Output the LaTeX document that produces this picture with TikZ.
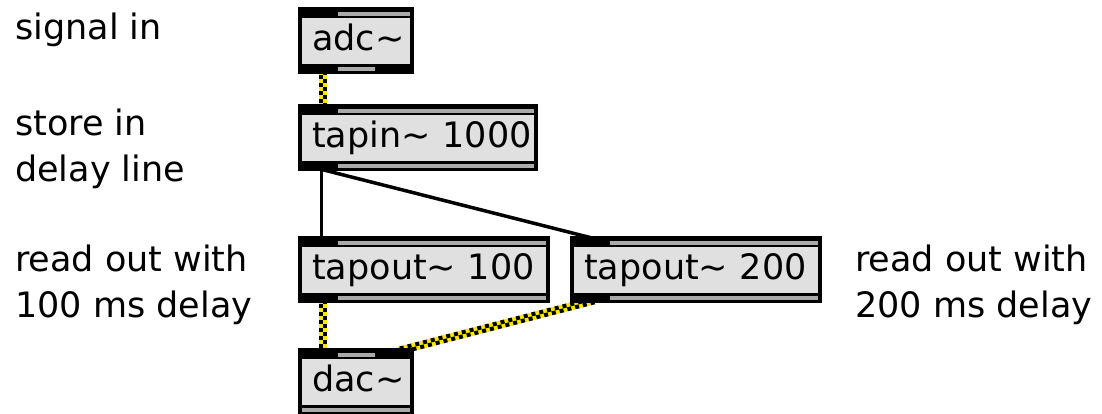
\documentclass[tikz,border=0pt]{standalone}
\usepackage{fontspec}
\setmainfont{DejaVu Sans}
\usepackage{tikz}
\usetikzlibrary{positioning,calc}
\pgfdeclarelayer{bg}
\pgfsetlayers{bg,main}
\definecolor{boxfill}{RGB}{224,224,224}
\definecolor{stripgray}{RGB}{170,170,170}
\definecolor{cordyellow}{RGB}{250,232,0}
\newcommand{\topstrip}[3]{\fill[stripgray] ($(#1.north west)+(#2,5)$) rectangle ($(#1.north west)+(#3,9)$);}
\newcommand{\botstrip}[3]{\fill[stripgray] ($(#1.south west)+(#2,-7)$) rectangle ($(#1.south west)+(#3,-3)$);}
\newcommand{\sigcord}[2]{%
  \draw[cordyellow, line width=8pt] (#1) -- (#2);
  \draw[black, line width=4pt, dash pattern=on 4pt off 4pt] ($(#1)!2pt!90:(#2)$) -- ($(#2)!2pt!-90:(#1)$);
  \draw[black, line width=4pt, dash pattern=on 4pt off 4pt, dash phase=4pt] ($(#1)!2pt!-90:(#2)$) -- ($(#2)!2pt!90:(#1)$);}

\begin{document}
\begin{tikzpicture}[x = 1pt, y = -1pt, font = \fontsize{35}{46}\selectfont,
    lbl/.style = {anchor = base west, align = left, inner sep = 0pt},
    maxobj/.style = {rectangle, anchor = north west, inner sep = 0pt, text width = #1,
      align = left, minimum height = 67pt, text height = 27pt, text depth = 8pt,
      path picture = {
        \fill[black] (path picture bounding box.north west) rectangle (path picture bounding box.south east);
        \fill[boxfill] ($(path picture bounding box.north west)+(4,11)$) rectangle ($(path picture bounding box.south east)+(-4,-10)$);
      }}]
    \useasboundingbox (0,0) rectangle (1102,414);
    % objects
    \node[maxobj = 116pt] (adc) at (298,7) {\hspace*{14pt}adc\textasciitilde};
    \node[maxobj = 240pt] (tapin) at (298,104) {\hspace*{14pt}tapin\textasciitilde\ 1000};
    \node[maxobj = 252pt] (outa) at (298,236) {\hspace*{14pt}tapout\textasciitilde\ 100};
    \node[maxobj = 252pt] (outb) at (570,236) {\hspace*{14pt}tapout\textasciitilde\ 200};
    \node[maxobj = 116pt] (dac) at (298,348) {\hspace*{14pt}dac\textasciitilde};
    % inlets and outlets
    \topstrip{adc}{40}{112} \botstrip{adc}{40}{77}
    \topstrip{tapin}{40}{236} \botstrip{tapin}{40}{236}
    \topstrip{outa}{40}{248} \botstrip{outa}{40}{248}
    \topstrip{outb}{40}{248} \botstrip{outb}{40}{248}
    \topstrip{dac}{40}{77} \botstrip{dac}{4}{112}
    % patch cords
    \coordinate (adcout) at ($(adc.south west)+(24.5,-3)$);
    \coordinate (tapinin) at ($(tapin.north west)+(24.5,3)$);
    \coordinate (tapinout) at ($(tapin.south west)+(23.5,-2)$);
    \coordinate (outain) at ($(outa.north west)+(23.5,2)$);
    \coordinate (outbin) at ($(outb.north west)+(22,2)$);
    \coordinate (outaout) at ($(outa.south west)+(24.5,-3)$);
    \coordinate (outbout) at ($(outb.south west)+(24,-3)$);
    \coordinate (dacinl) at ($(dac.north west)+(24.5,3)$);
    \coordinate (dacinr) at ($(dac.north west)+(100,3)$);
    \begin{pgfonlayer}{bg}
      \sigcord{adcout}{tapinin}
      \draw[line width = 3.5pt] (tapinout) -- (outain);
      \draw[line width = 3.5pt] (tapinout) -- (outbin);
      \sigcord{outaout}{dacinl}
      \sigcord{outbout}{dacinr}
    \end{pgfonlayer}
    % Labels
    \node[lbl] (sig) at (15,40) {signal in};
    \node[lbl] (store) at (15,182) {store in\\delay line};
    \node[lbl] (reada) at (15,317) {read out with\\100 ms delay};
    \node[lbl] (readb) at (855,317) {read out with\\200 ms delay};
\end{tikzpicture}
\end{document}
